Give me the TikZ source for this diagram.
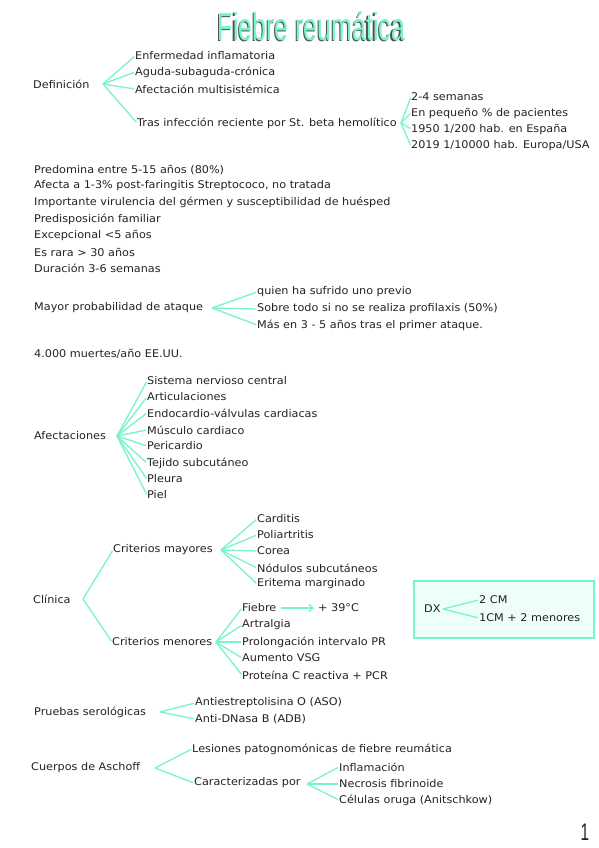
\documentclass[tikz,border=0pt]{standalone}
\usepackage{fontspec}
\setmainfont[FakeStretch=1.06]{DejaVu Sans}
\newfontfamily\titlefont[FakeStretch=0.64]{Liberation Sans}
\usetikzlibrary{arrows.meta}
\definecolor{aqua}{RGB}{120,245,200}
\definecolor{boxfill}{RGB}{238,255,248}
\definecolor{ink}{RGB}{35,35,35}
\begin{document}
\begin{tikzpicture}[x=1pt,y=-1pt,
  t/.style={anchor=west, inner sep=0pt, font=\fontsize{10.6}{12}\selectfont, text=ink},
  br/.style={draw=aqua, line width=1.3pt, shorten >=1pt},
  tt/.style={font=\titlefont\fontsize{39}{40}\selectfont}]
\useasboundingbox[fill=white] (0,0) rectangle (599,848);
% title
\node[tt, text=ink!80] (titleshadow) at (310.2,27.8) {Fiebre reumática};
\node[tt, text=aqua] (title) at (311.6,26.6) {Fiebre reumática};

% Definicion
\node[t] (def) at (33,84) {Definición};
\coordinate (defo) at (103,84);
\node[t] (d1) at (135,56) {Enfermedad inflamatoria};
\node[t] (d2) at (135,72) {Aguda-subaguda-crónica};
\node[t] (d3) at (135,89) {Afectación multisistémica};
\node[t] (d4) at (137,123) {Tras infección reciente por St. beta hemolítico};
\foreach \c in {d1,d2,d3,d4} \draw[br] (defo) -- (\c.west);
\coordinate (d4o) at (401,123);
\node[t] (e1) at (411,97) {2-4 semanas};
\node[t] (e2) at (411,113) {En pequeño \% de pacientes};
\node[t] (e3) at (411,129) {1950 1/200 hab. en España};
\node[t] (e4) at (411,146) {2019 1/10000 hab. Europa/USA};
\foreach \c in {e1,e2,e3,e4} \draw[br] (d4o) -- (\c.west);

% plain lines
\node[t] (p1) at (34,170) {Predomina entre 5-15 años (80\%)};
\node[t] (p2) at (34,186) {Afecta a 1-3\% post-faringitis Streptococo, no tratada};
\node[t] (p3) at (34,202) {Importante virulencia del gérmen y susceptibilidad de huésped};
\node[t] (p4) at (34,219) {Predisposición familiar};
\node[t] (p5) at (34,235) {Excepcional <5 años};
\node[t] (p6) at (34,252) {Es rara > 30 años};
\node[t] (p7) at (34,268) {Duración 3-6 semanas};

% Mayor probabilidad
\node[t] (m) at (34,308) {Mayor probabilidad de ataque};
\coordinate (mo) at (212,308);
\node[t] (m1) at (257,292) {quien ha sufrido uno previo};
\node[t] (m2) at (257,309) {Sobre todo si no se realiza profilaxis (50\%)};
\node[t] (m3) at (257,325) {Más en 3 - 5 años tras el primer ataque.};
\foreach \c in {m1,m2,m3} \draw[br] (mo) -- (\c.west);

\node[t] (muertes) at (34,354) {4.000 muertes/año EE.UU.};

% Afectaciones
\node[t] (af) at (34,436) {Afectaciones};
\coordinate (afo) at (117,436);
\node[t] (a1) at (147,381) {Sistema nervioso central};
\node[t] (a2) at (147,397) {Articulaciones};
\node[t] (a3) at (147,413) {Endocardio-válvulas cardiacas};
\node[t] (a4) at (147,430) {Músculo cardiaco};
\node[t] (a5) at (147,446) {Pericardio};
\node[t] (a6) at (147,463) {Tejido subcutáneo};
\node[t] (a7) at (147,479) {Pleura};
\node[t] (a8) at (147,495) {Piel};
\foreach \c in {a1,a2,a3,a4,a5,a6,a7,a8} \draw[br] (afo) -- (\c.west);

% Clinica
\node[t] (cl) at (33,599) {Clínica};
\coordinate (clo) at (83,599);
\node[t] (cma) at (113,550) {Criterios mayores};
\node[t] (cme) at (112,642) {Criterios menores};
\draw[br] (clo) -- (cma.west);
\draw[br] (clo) -- (cme.west);
\coordinate (cmao) at (221,550);
\node[t] (k1) at (257,519) {Carditis};
\node[t] (k2) at (257,535) {Poliartritis};
\node[t] (k3) at (257,551) {Corea};
\node[t] (k4) at (257,568) {Nódulos subcutáneos};
\node[t] (k5) at (257,584) {Eritema marginado};
\foreach \c in {k1,k2,k3,k4,k5} \draw[br] (cmao) -- (\c.west);
\coordinate (cmeo) at (216,642);
\node[t] (n1) at (242,608) {Fiebre};
\node[t] (n2) at (242,625) {Artralgia};
\node[t] (n3) at (242,642) {Prolongación intervalo PR};
\node[t] (n4) at (242,658) {Aumento VSG};
\node[t] (n5) at (242,675) {Proteína C reactiva + PCR};
\foreach \c in {n1,n2,n3,n4,n5} \draw[br] (cmeo) -- (\c.west);
\node[t] (deg) at (318,608) {+ 39°C};
\draw[draw=aqua, line width=1.3pt, -{Straight Barb[length=4pt,width=7pt]}] ([xshift=4pt]n1.east) -- ([xshift=-4pt]deg.west);

% DX box
\node[draw=aqua, line width=1.3pt, fill=boxfill, minimum width=180pt, minimum height=57pt, inner sep=0pt] (box) at (504,609.5) {};
\node[t] (dx) at (424,609) {DX};
\coordinate (dxo) at (443,609);
\node[t] (x1) at (479,600) {2 CM};
\node[t] (x2) at (479,618) {1CM + 2 menores};
\foreach \c in {x1,x2} \draw[br] (dxo) -- (\c.west);

% Pruebas serologicas
\node[t] (ps) at (34,712) {Pruebas serológicas};
\coordinate (pso) at (160,712);
\node[t] (s1) at (195,703) {Antiestreptolisina O (ASO)};
\node[t] (s2) at (195,719) {Anti-DNasa B (ADB)};
\foreach \c in {s1,s2} \draw[br] (pso) -- (\c.west);

% Cuerpos de Aschoff
\node[t] (ca) at (31,768) {Cuerpos de Aschoff};
\coordinate (cao) at (155,768);
\node[t] (c1) at (192,749) {Lesiones patognomónicas de fiebre reumática};
\node[t] (c2) at (194,783) {Caracterizadas por};
\foreach \c in {c1,c2} \draw[br] (cao) -- (\c.west);
\coordinate (c2o) at (307,784);
\node[t] (r1) at (339,767) {Inflamación};
\node[t] (r2) at (339,784) {Necrosis fibrinoide};
\node[t] (r3) at (339,800) {Células oruga (Anitschkow)};
\foreach \c in {r1,r2,r3} \draw[br] (c2o) -- (\c.west);

\node[text=ink, font=\fontsize{24}{24}\selectfont\titlefont] (pg) at (585,832) {1};
\end{tikzpicture}
\end{document}
